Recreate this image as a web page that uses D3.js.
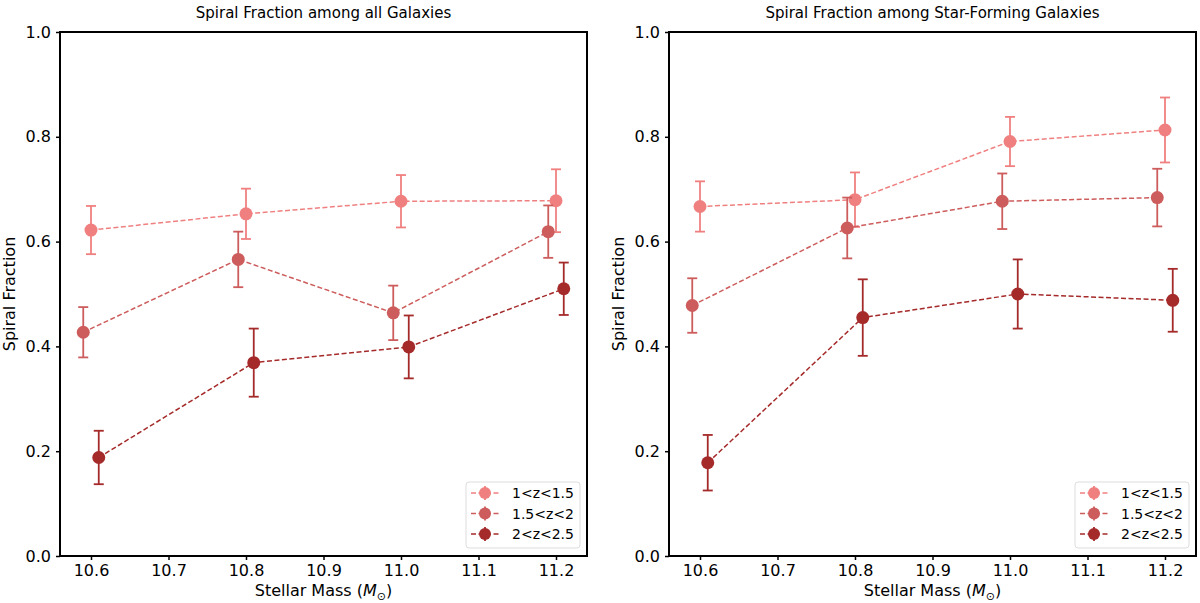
<!DOCTYPE html><html><head><script src="https://cdn.jsdelivr.net/npm/d3@7"></script>
<style>body{margin:0;background:#fff}text{font-family:"DejaVu Sans",sans-serif}</style></head><body>
<svg id="c" width="1200" height="603"></svg>
<script>
const seriesNames=["1<z<1.5","1.5<z<2","2<z<2.5"];
const colors=["#f08080","#cd5c5c","#a52a2a"];
const xTicks=[10.6,10.7,10.8,10.9,11.0,11.1,11.2];
const yTicks=[0,0.2,0.4,0.6,0.8,1.0];
const massBins=[10.6,10.8,11.0,11.2];
const offsets=[0,-0.01,0.01];
// left panel
const allY=[[0.622,0.653,0.677,0.678],[0.427,0.566,0.464,0.619],[0.188,0.369,0.399,0.510]];
const allE=[[0.046,0.048,0.05,0.06],[0.048,0.053,0.052,0.05],[0.051,0.065,0.06,0.05]];
// right panel
const sfY=[[0.667,0.680,0.791,0.813],[0.478,0.626,0.677,0.684],[0.178,0.455,0.500,0.488]];
const sfE=[[0.048,0.052,0.047,0.062],[0.052,0.058,0.053,0.055],[0.053,0.073,0.066,0.06]];

const svg=d3.select("#c");
function panel(x0,x1,title,Y,E){
  const top=32,bot=556;
  const x=d3.scaleLinear().domain([10.56,11.24]).range([x0,x1]);
  const y=d3.scaleLinear().domain([0,1]).range([bot,top]);
  const g=svg.append("g");
  g.append("g").attr("transform",`translate(0,${bot})`).call(d3.axisBottom(x).tickValues(xTicks).tickFormat(d3.format(".1f")).tickSizeInner(4).tickSizeOuter(0).tickPadding(5))
   .call(a=>{a.select(".domain").remove();a.selectAll("line").attr("stroke-width",1.5);a.selectAll("text").attr("font-size",16).attr("fill","#000");});
  g.append("g").attr("transform",`translate(${x0},0)`).call(d3.axisLeft(y).tickValues(yTicks).tickFormat(d3.format(".1f")).tickSizeInner(4).tickSizeOuter(0).tickPadding(5))
   .call(a=>{a.select(".domain").remove();a.selectAll("line").attr("stroke-width",1.5);a.selectAll("text").attr("font-size",16).attr("fill","#000");});
  const d=g.append("g");
  Y.forEach((ys,i)=>{
    const pts=massBins.map((m,j)=>[m+offsets[i],ys[j],E[i][j]]);
    d.append("path").attr("d",d3.line().x(p=>x(p[0])).y(p=>y(p[1]))(pts)).attr("fill","none").attr("stroke",colors[i]).attr("stroke-width",1.5).attr("stroke-dasharray","5,2.5");
    pts.forEach(p=>{
      d.append("line").attr("x1",x(p[0])).attr("x2",x(p[0])).attr("y1",y(p[1]-p[2])).attr("y2",y(p[1]+p[2])).attr("stroke",colors[i]).attr("stroke-width",1.8);
      [p[1]-p[2],p[1]+p[2]].forEach(v=>d.append("line").attr("x1",x(p[0])-5).attr("x2",x(p[0])+5).attr("y1",y(v)).attr("y2",y(v)).attr("stroke",colors[i]).attr("stroke-width",1.8));
      d.append("circle").attr("cx",x(p[0])).attr("cy",y(p[1])).attr("r",6.5).attr("fill",colors[i]);
    });
  });
  g.append("rect").attr("x",x0).attr("y",top).attr("width",x1-x0).attr("height",bot-top).attr("fill","none").attr("stroke","#000").attr("stroke-width",2);
  g.append("text").attr("x",(x0+x1)/2).attr("y",18).attr("text-anchor","middle").attr("font-size",15).text(title);
  const xl=g.append("text").attr("x",(x0+x1)/2).attr("y",596).attr("text-anchor","middle").attr("font-size",16);
  xl.append("tspan").text("Stellar Mass (");xl.append("tspan").attr("font-style","italic").text("M");
  xl.append("tspan").attr("font-size",11).attr("dy",4).text("⊙");xl.append("tspan").attr("dy",-4).text(")");
  g.append("text").attr("transform",`translate(${x0-45},${(top+bot)/2}) rotate(-90)`).attr("text-anchor","middle").attr("font-size",16).text("Spiral Fraction");
  // legend
  const lx=x1-121,ly=482;
  g.append("rect").attr("x",lx).attr("y",ly).attr("width",114).attr("height",66).attr("rx",3).attr("fill","#fff").attr("stroke","#ddd");
  seriesNames.forEach((n,i)=>{
    const yy=ly+11+i*20.5, cx=lx+19;
    g.append("line").attr("x1",cx-14).attr("x2",cx+14).attr("y1",yy).attr("y2",yy).attr("stroke",colors[i]).attr("stroke-width",1.5).attr("stroke-dasharray","5,2.5");
    g.append("line").attr("x1",cx).attr("x2",cx).attr("y1",yy-7).attr("y2",yy+7).attr("stroke",colors[i]).attr("stroke-width",1.8);
    g.append("circle").attr("cx",cx).attr("cy",yy).attr("r",6).attr("fill",colors[i]);
    g.append("text").attr("x",lx+46).attr("y",yy+5).attr("font-size",14).text(n);
  });
}
panel(60,587,"Spiral Fraction among all Galaxies",allY,allE);
panel(669,1196,"Spiral Fraction among Star-Forming Galaxies",sfY,sfE);
</script></body></html>
